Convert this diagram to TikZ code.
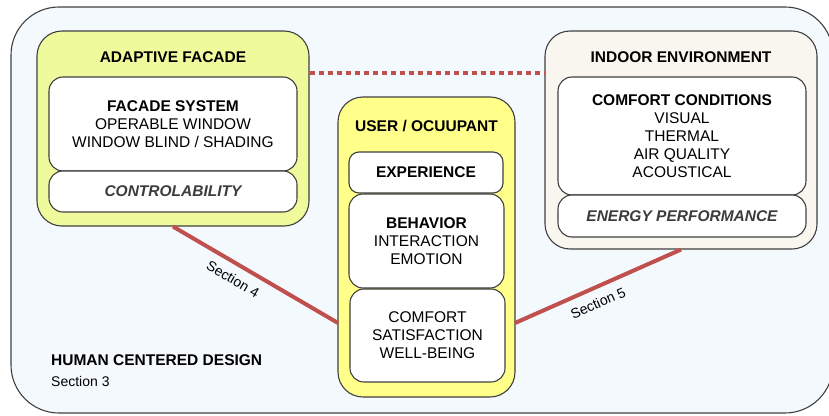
\documentclass[tikz,border=0pt]{standalone}
\usepackage{fontspec}
\setmainfont{Liberation Sans}
\definecolor{outerfill}{HTML}{F4F9FE}
\definecolor{adaptfill}{HTML}{EEFA9C}
\definecolor{userfill}{HTML}{FFFF8A}
\definecolor{indoorfill}{HTML}{F8F6EE}
\definecolor{linkred}{HTML}{C0504D}
\definecolor{edge}{HTML}{404040}
\definecolor{itgray}{HTML}{3C3C3C}
\begin{document}
\begin{tikzpicture}[x=1pt,y=-1pt,
  box/.style={draw=edge, line width=1.1pt, inner sep=0pt},
  group/.style={box, rounded corners=25pt},
  card/.style={box, fill=white, rounded corners=14pt, align=center,
    font=\fontsize{15.5}{18}\selectfont},
  ttl/.style={font=\bfseries\fontsize{15.5}{18}\selectfont, inner sep=0pt},
  lbl/.style={font=\fontsize{14}{17}\selectfont, inner sep=0pt},
  link/.style={draw=linkred, line width=4pt},
]
\useasboundingbox (0,0) rectangle (829,415);
% outer container
\node[box, fill=outerfill, minimum width=822pt, minimum height=406pt, rounded corners=48pt] (outer) at (422,210) {};
% groups
\node[group, fill=adaptfill, minimum width=272pt, minimum height=195pt] (adaptive) at (173,128.5) {};
\node[group, fill=userfill, minimum width=177pt, minimum height=300pt] (user) at (426.5,247) {};
\node[group, fill=indoorfill, minimum width=272pt, minimum height=218pt] (indoor) at (681,140) {};
% titles
\node[ttl] (tadaptive) at (173,57) {ADAPTIVE FACADE};
\node[ttl] (tuser) at (426.5,126) {USER / OCUUPANT};
\node[ttl] (tindoor) at (681,57) {INDOOR ENVIRONMENT};
% cards
\node[card, minimum width=248pt, minimum height=94pt] (fs) at (173,124) {\textbf{FACADE SYSTEM}\\OPERABLE WINDOW\\WINDOW BLIND / SHADING};
\node[card, minimum width=248pt, minimum height=41pt, text=itgray] (ctrl) at (173,191.5) {\bfseries\itshape CONTROLABILITY};
\node[card, rounded corners=10pt, minimum width=154pt, minimum height=41pt] (exp) at (426,172.5) {\textbf{EXPERIENCE}};
\node[card, minimum width=155pt, minimum height=94pt] (beh) at (426.5,241) {\textbf{BEHAVIOR}\\INTERACTION\\EMOTION};
\node[card, minimum width=155pt, minimum height=93pt] (cmf) at (427.5,335.5) {COMFORT\\SATISFACTION\\WELL-BEING};
\node[card, minimum width=248pt, minimum height=118pt] (cc) at (682,136) {\textbf{COMFORT CONDITIONS}\\VISUAL\\THERMAL\\AIR QUALITY\\ACOUSTICAL};
\node[card, minimum width=248pt, minimum height=42pt, text=itgray] (ep) at (682,216) {\bfseries\itshape ENERGY PERFORMANCE};
% links
\coordinate (s4end) at (338,323);
\coordinate (s5end) at (515,323);
\draw[link, dash pattern=on 5pt off 4pt] (adaptive.east |- 0,73) -- (indoor.west |- 0,73);
\draw[link] (adaptive.south) -- (s4end);
\draw[link] (s5end) -- (indoor.south);
\node[lbl, rotate=-30.2] (sec4) at (233,279) {Section 4};
\node[lbl, rotate=23.6] (sec5) at (598,303) {Section 5};
% bottom-left label
\node[ttl, anchor=west] (hcd) at (51,360) {HUMAN CENTERED DESIGN};
\node[lbl, anchor=west] (sec3) at (51,381) {Section 3};
\end{tikzpicture}
\end{document}
